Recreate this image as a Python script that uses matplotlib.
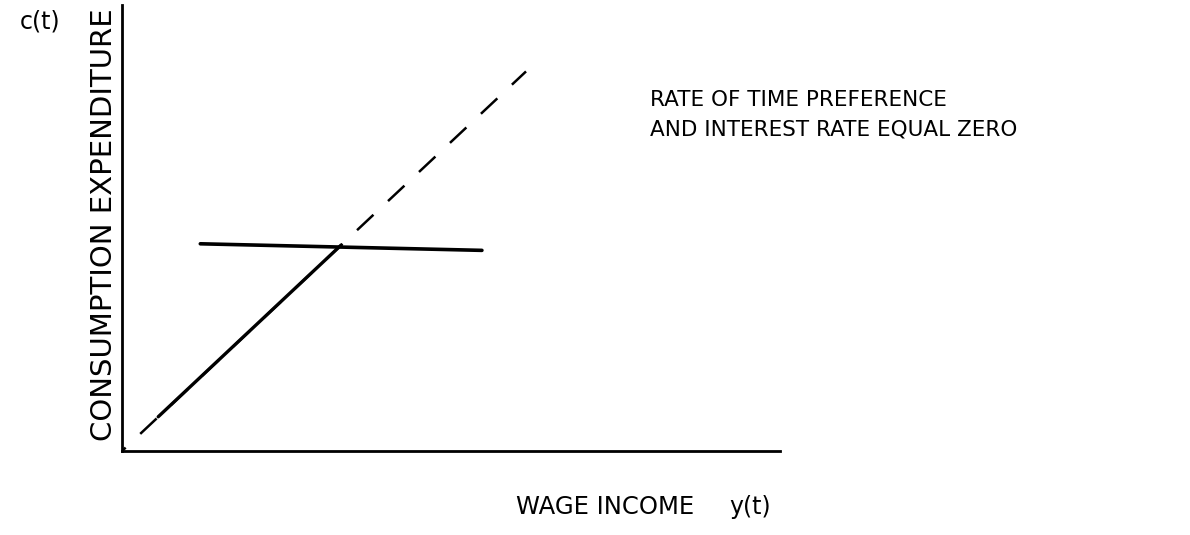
import matplotlib.pyplot as plt

# sketch data (arbitrary income / consumption units)
dashed_x = [0.0, 6.14]
dashed_y = [0.0, 5.77]

solid_x = [0.55, 3.33]
solid_y = [0.52, 3.13]

flat_x = [1.19, 5.47]
flat_y = [3.15, 3.05]

W, H = 1190, 535

fig = plt.figure(figsize=(11.9, 5.35), dpi=100)
ax = fig.add_axes([122 / W, 84 / H, 658 / W, 446 / H])
ax.set_xlim(0, 10)
ax.set_ylim(0, 6.78)

ax.plot(dashed_x, dashed_y, color='black', linewidth=1.8, linestyle=(7, (9, 8)))
ax.plot(solid_x, solid_y, color='black', linewidth=2.4, solid_capstyle='round')
ax.plot(flat_x, flat_y, color='black', linewidth=2.6, solid_capstyle='round')

for s in ['top', 'right']:
    ax.spines[s].set_visible(False)
ax.spines['left'].set_linewidth(2.0)
ax.spines['bottom'].set_linewidth(2.0)
ax.set_xticks([])
ax.set_yticks([])

font = 'DejaVu Sans'
fig.text(104 / W, 1 - 225 / H, 'CONSUMPTION EXPENDITURE', rotation=90, fontsize=21,
         ha='center', va='center', family=font)
fig.text(40 / W, 1 - 22 / H, 'c(t)', fontsize=17, ha='center', va='center', family=font)
fig.text(605 / W, 1 - 507 / H, 'WAGE INCOME', fontsize=17.5, ha='center', va='center', family=font)
fig.text(750 / W, 1 - 507 / H, 'y(t)', fontsize=17, ha='center', va='center', family=font)

fig.text(650 / W, 1 - 100 / H, 'RATE OF TIME PREFERENCE', fontsize=15.5, ha='left', va='center', family=font)
fig.text(650 / W, 1 - 130 / H, 'AND INTEREST RATE EQUAL ZERO', fontsize=15.5, ha='left', va='center', family=font)

fig.savefig('out.png', dpi=100)
